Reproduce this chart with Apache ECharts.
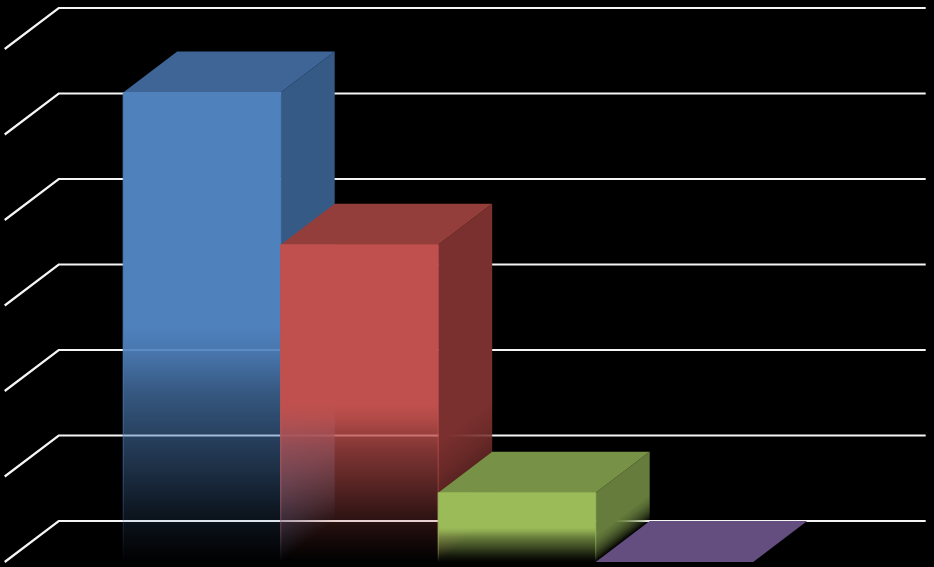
<!DOCTYPE html>
<html>
<head>
<meta charset="utf-8">
<style>html,body{margin:0;padding:0;background:#000}#c{width:934px;height:567px}</style>
<script src="https://cdn.jsdelivr.net/npm/echarts@6/dist/echarts.min.js"></script>
</head>
<body>
<div id="c"></div>
<script>
var categories = ['Category 1'];
var seriesNames = ['Series 1', 'Series 2', 'Series 3', 'Series 4'];
var seriesValues = [5.49, 3.71, 0.81, 0];
var tickValues = [0, 1, 2, 3, 4, 5, 6];

var frontColors = [[79, 129, 189], [192, 80, 77], [155, 187, 89], [128, 100, 162]];
var topColors = ['#3e6596', '#943e3b', '#779146', '#644e7f'];
var sideColors = [[52, 90, 133], [122, 48, 46], [101, 124, 60], [80, 62, 102]];
var frontFade = [[0, 1], [0.5, 1], [0.55, 0.92], [0.64, 0.68], [0.73, 0.5], [0.8, 0.37], [0.9, 0.16], [1, 0]];
var sideFade = [[0, 1], [0.62, 1], [0.73, 0.85], [0.84, 0.6], [0.93, 0.3], [1, 0]];

var DEPTH_X = 54, DEPTH_Y = -41;
var BARS_SHARE = 630 / 867;

function fade(rgb, stops, x, y, x2, y2, power) {
  return {
    type: 'linear', global: true, x: x, y: y, x2: x2, y2: y2,
    colorStops: stops.map(function (s) {
      return { offset: s[0], color: 'rgba(' + rgb.join(',') + ',' + Math.pow(s[1], power) + ')' };
    })
  };
}

function wallItem(params, api) {
  var p = api.coord([0, api.value(0)]);
  var left = params.coordSys.x;
  var right = left + params.coordSys.width + DEPTH_X;
  return {
    type: 'polyline',
    shape: { points: [[left, p[1]], [left + DEPTH_X, p[1] + DEPTH_Y], [right, p[1] + DEPTH_Y]] },
    style: { fill: 'none', stroke: '#f5f5f5', lineWidth: 2.2 }
  };
}

function barItem(index) {
  return function (params, api) {
    var value = api.value(1);
    var topPt = api.coord([0, value]);
    var basePt = api.coord([0, 0]);
    var band = api.size([1, 0])[0];
    var w = band * BARS_SHARE / seriesValues.length;
    var x0 = topPt[0] - w * seriesValues.length / 2 + w * index;
    var x1 = x0 + w;
    var yT = topPt[1], yB = basePt[1], h = yB - yT;
    var children = [];
    if (h > 0.5) {
      var len = Math.sqrt(DEPTH_X * DEPTH_X + DEPTH_Y * DEPTH_Y);
      var nx = -DEPTH_Y / len, ny = DEPTH_X / len;
      var d = h * ny;
      children.push({
        type: 'polygon',
        shape: { points: [[x1, yT], [x1 + DEPTH_X, yT + DEPTH_Y], [x1 + DEPTH_X, yB + DEPTH_Y], [x1, yB]] },
        style: { fill: fade(sideColors[index], sideFade, x1, yT, x1 + nx * d, yT + ny * d, 1) }
      });
    }
    children.push({
      type: 'polygon',
      shape: { points: [[x0, yT], [x0 + DEPTH_X, yT + DEPTH_Y], [x1 + DEPTH_X, yT + DEPTH_Y], [x1, yT]] },
      style: { fill: topColors[index] }
    });
    if (h > 0.5) {
      children.push({
        type: 'rect',
        shape: { x: x0, y: yT, width: w, height: h },
        style: {
          fill: fade(frontColors[index], frontFade, 0, yT, 0, yB, 1),
          stroke: fade(frontColors[index], frontFade, 0, yT, 0, yB, 0.55),
          lineWidth: 1
        }
      });
    }
    return { type: 'group', children: children };
  };
}

var series = [{
  type: 'custom',
  name: 'Walls',
  coordinateSystem: 'cartesian2d',
  clip: false,
  silent: true,
  animation: false,
  z: 1,
  renderItem: wallItem,
  encode: { y: 0 },
  data: tickValues.map(function (t) { return [t]; })
}];
seriesValues.forEach(function (v, i) {
  series.push({
    type: 'custom',
    name: seriesNames[i],
    coordinateSystem: 'cartesian2d',
    clip: false,
    silent: true,
    animation: false,
    z: 2 + i,
    renderItem: barItem(i),
    encode: { x: 0, y: 1 },
    data: [[0, v]]
  });
});

var chart = echarts.init(document.getElementById('c'), null, { renderer: 'canvas' });
chart.setOption({
  backgroundColor: '#000',
  animation: false,
  grid: { left: 4.7, top: 49, width: 867, height: 513 },
  xAxis: { type: 'category', data: categories, show: false },
  yAxis: { type: 'value', min: 0, max: 6, interval: 1, show: false },
  series: series
});
</script>
</body>
</html>
